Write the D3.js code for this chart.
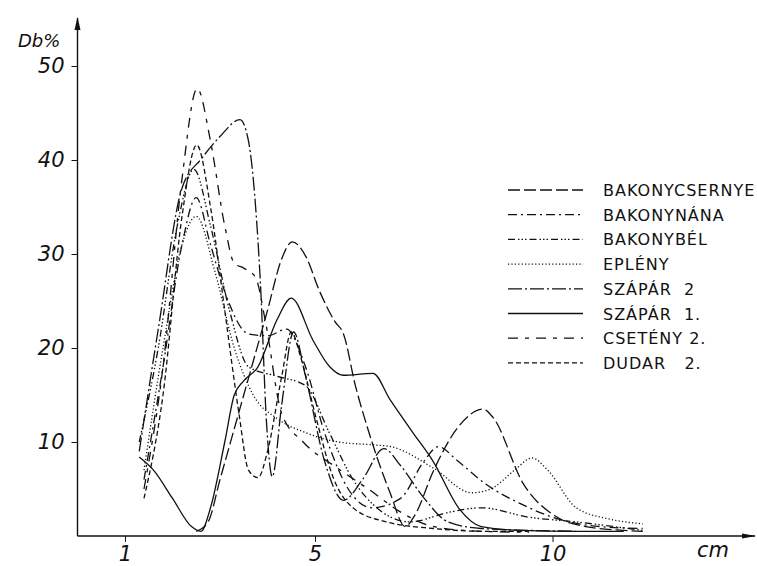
<!DOCTYPE html>
<html><head><meta charset="utf-8">
<script src="https://cdn.jsdelivr.net/npm/d3@7/dist/d3.min.js"></script>
<style>
html,body{margin:0;padding:0;background:#fff;}
svg{display:block;}
.ax text{font-family:"DejaVu Sans",sans-serif;font-style:italic;font-size:21px;fill:#111;}
.leg text{font-family:"DejaVu Sans",sans-serif;font-size:16px;letter-spacing:1px;fill:#111;}
</style>
</head><body>
<svg id="c" width="757" height="566"></svg>
<script>
// ---- data (cm, Db%) ----
const seriesNames = ["BAKONYCSERNYE","BAKONYNÁNA","BAKONYBÉL","EPLÉNY","SZÁPÁR  2","SZÁPÁR  1.","CSETÉNY 2.","DUDAR   2."];
const bakonycsernye = [[2.5,0.5],[2.75,1.5],[3.0,6],[3.5,15],[4.0,24],[4.3,29.5],[4.52,31.3],[4.8,29.8],[5.1,26],[5.42,22.8],[5.6,21.5],[5.85,16],[6.1,11.6],[6.58,4.6],[6.9,1],[7.1,2.2],[7.5,7],[8.0,11.5],[8.54,13.5],[8.75,12.6],[9.38,5.6],[10.1,2],[10.7,1],[11.5,0.6],[11.9,0.5]];
const bakonynana = [[1.4,6],[1.8,18],[2.2,31],[2.5,36],[2.8,31],[3.1,26],[3.6,21.5],[4.0,21.3],[4.4,22],[4.8,18],[5.2,11],[5.7,5],[6.2,3],[6.8,4],[7.3,8],[7.6,9.5],[8.0,8],[8.6,5.5],[9.3,3.5],[10,2],[11,1],[11.9,0.8]];
const bakonybel = [[1.3,10],[1.7,20],[2.1,33],[2.45,39],[2.8,33],[3.2,24],[3.6,18],[4.2,17],[4.8,16],[5.3,11],[5.8,6],[6.3,3],[7.0,1.5],[7.8,2.5],[8.5,3],[9.5,2],[10.5,1.5],[11.3,1],[11.9,0.6]];
const epleny = [[1.4,7],[1.8,20],[2.2,31],[2.5,34],[2.9,28],[3.3,20],[3.7,15],[4.2,12.5],[4.8,11],[5.5,10],[6.2,9.7],[6.6,9.5],[7.5,7.2],[8.3,4.6],[8.7,5],[9.2,7],[9.57,8.3],[9.9,7],[10.5,3],[11.2,1.8],[11.9,1.3]];
const szapar2 = [[1.3,9],[1.7,22],[2.2,37],[2.62,40.2],[3.0,42.5],[3.42,44.3],[3.6,42],[3.75,35],[3.85,27],[3.98,12],[4.1,6.3],[4.3,14],[4.55,21.7],[4.8,17],[5.2,8],[5.6,3.8],[6.0,6],[6.45,9.3],[6.8,7.5],[7.3,4],[7.8,1.5],[8.5,0.8],[9.5,0.6],[10.5,0.5]];
const szapar1 = [[1.3,8.4],[1.6,7],[2.0,4],[2.4,1],[2.6,0.5],[2.8,3],[3.1,10],[3.3,15],[3.5,16.5],[3.8,18],[4.2,23],[4.5,25.3],[4.96,20.8],[5.31,18],[5.59,17.1],[6.22,17.3],[6.58,14.5],[7.06,11],[7.48,8],[8.05,2.8],[8.5,1],[9.3,0.6],[10.5,0.5],[11.5,0.5]];
const csetey2 = [[1.4,5],[1.8,18],[2.2,38],[2.52,47.6],[2.8,42],[3.1,33],[3.3,29],[3.5,28.5],[3.75,27.5],[3.95,23],[4.3,13],[4.75,10],[5.45,7.3],[6.15,4.9],[6.85,2.4],[7.5,1],[8.5,0.5],[9.5,0.4]];
const dudar2 = [[1.4,4],[1.8,15],[2.2,34],[2.51,41.6],[2.8,35],[3.1,24],[3.4,13],[3.6,7],[3.8,6.2],[4.0,9],[4.3,17],[4.5,21.7],[4.7,19],[5.0,13],[5.4,6],[5.8,3],[6.5,1.5],[7.5,0.8],[8.5,0.5],[9.5,0.5]];
const seriesData = [bakonycsernye, bakonynana, bakonybel, epleny, szapar2, szapar1, csetey2, dudar2];
const dashes = ["12,4","9,4,2,4","7,3,1.5,2,1.5,2,1.5,3","1.2,2.2","14,3,2,3",null,"10,7,4,7","5,3"];
const yTicks = [10,20,30,40,50];
const xTicks = [1,5,10];

const svg = d3.select("#c");
const x = d3.scaleLinear().domain([0,14.2]).range([77.5, 77.5+14.2*47.5]);
const y = d3.scaleLinear().domain([0,50]).range([536,66]);

// axes lines with arrows
svg.append("line").attr("x1",x(0)).attr("x2",x(0)).attr("y1",y(0)).attr("y2",18).attr("stroke","#111").attr("stroke-width",1.4);
svg.append("path").attr("d",`M${x(0)-3},${30} L${x(0)},${17} L${x(0)+3},${30} Z`).attr("fill","#111");
svg.append("line").attr("x1",x(0)).attr("x2",755).attr("y1",y(0)).attr("y2",y(0)).attr("stroke","#111").attr("stroke-width",1.4);
svg.append("path").attr("d",`M${742},${y(0)-2.5} L${756},${y(0)} L${742},${y(0)+2.5} Z`).attr("fill","#111");

const gy = svg.append("g").attr("class","ax").attr("transform",`translate(${x(0)},0)`)
  .call(d3.axisLeft(y).tickValues(yTicks).tickSize(6).tickPadding(7));
gy.select(".domain").remove();
gy.selectAll("line").attr("stroke","#111");
const gx = svg.append("g").attr("class","ax").attr("transform",`translate(0,${y(0)})`)
  .call(d3.axisBottom(x).tickValues(xTicks).tickSize(6).tickPadding(4));
gx.select(".domain").remove();
gx.selectAll("line").attr("stroke","#111");

svg.append("text").attr("x",18).attr("y",47)
  .style("font-family","DejaVu Sans,sans-serif").style("font-style","italic").style("font-size","18px").attr("fill","#111").text("Db%");
svg.append("text").attr("x",697).attr("y",557)
  .style("font-family","DejaVu Sans,sans-serif").style("font-style","italic").style("font-size","21px").attr("fill","#111").text("cm");

const line = d3.line().x(d=>x(d[0])).y(d=>y(d[1])).curve(d3.curveMonotoneX);
seriesData.forEach((s,i)=>{
  svg.append("path").datum(s).attr("d",line).attr("fill","none")
    .attr("stroke","#111").attr("stroke-width",1.3)
    .attr("stroke-dasharray",dashes[i]);
});

// legend
const leg = svg.append("g").attr("class","leg");
seriesNames.forEach((n,i)=>{
  const yy = 190 + i*24.7;
  leg.append("line").attr("x1",508).attr("x2",583).attr("y1",yy).attr("y2",yy)
    .attr("stroke","#111").attr("stroke-width",1.3).attr("stroke-dasharray",dashes[i]);
  leg.append("text").attr("x",603).attr("y",yy+6).text(n).attr("xml:space","preserve");
});
</script>
</body></html>
